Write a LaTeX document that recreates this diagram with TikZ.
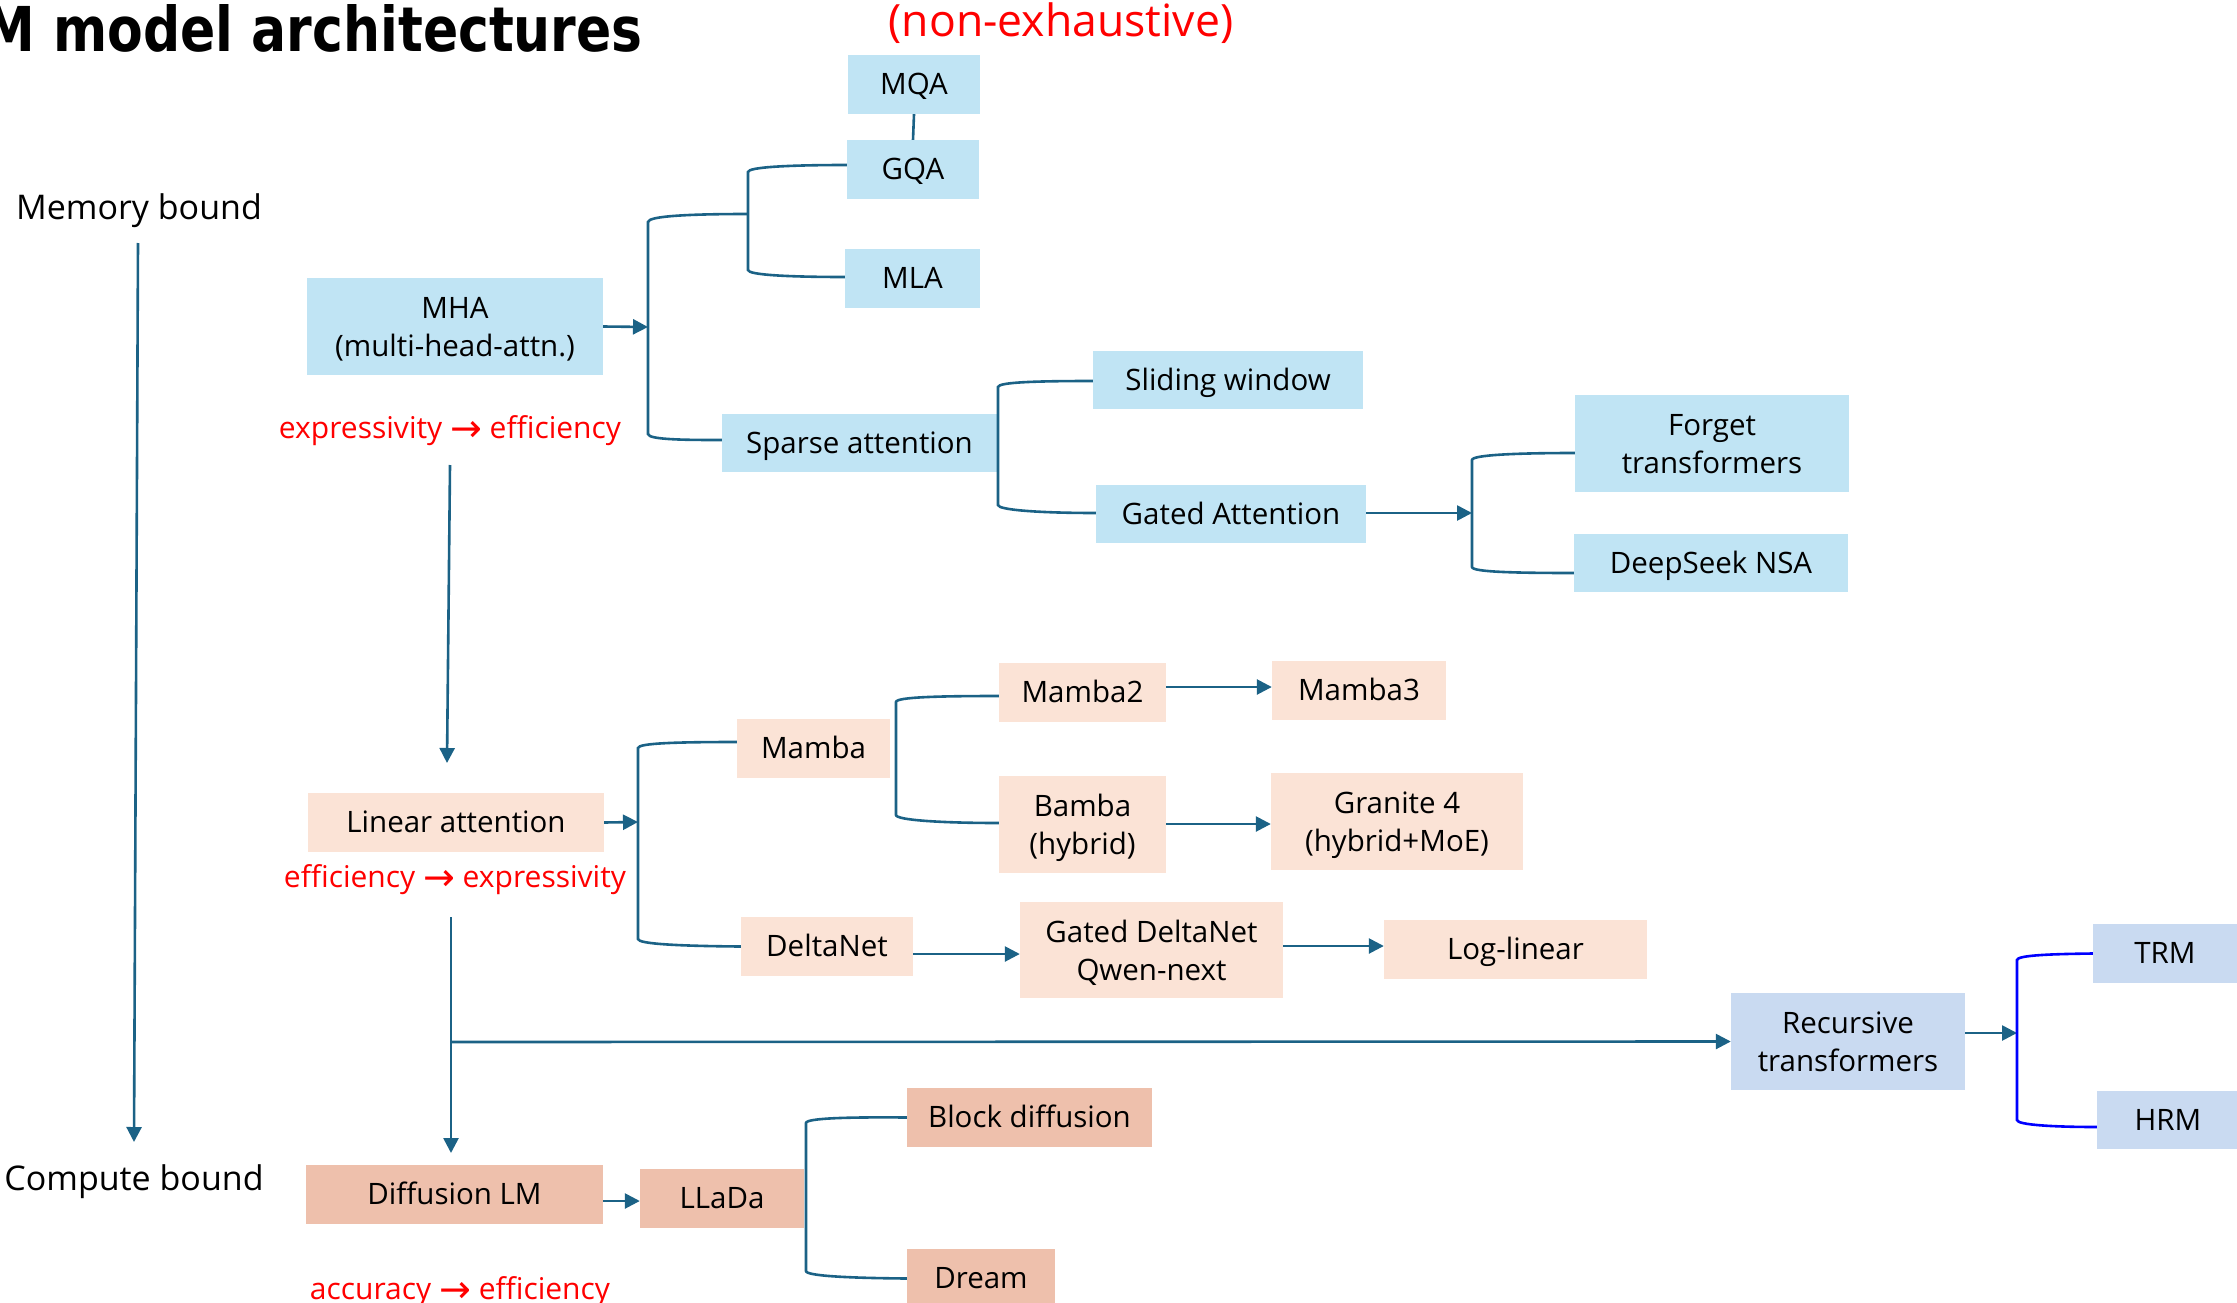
\documentclass[tikz,border=0pt]{standalone}
\usepackage{fontspec}
\setmainfont{Open Sans}
\newfontfamily\symfont{DejaVu Sans}
\usetikzlibrary{arrows.meta,calc}

\definecolor{boxblue}{RGB}{192,228,244}
\definecolor{boxlav}{RGB}{201,218,241}
\definecolor{boxpeach}{RGB}{251,227,214}
\definecolor{boxsalmon}{RGB}{238,192,172}
\definecolor{linec}{RGB}{27,98,134}
\definecolor{brblue}{RGB}{0,0,255}

\newcommand{\rarr}{\raisebox{-3pt}{\symfont\fontsize{38}{38}\selectfont\char"2192}}
\newcommand{\linestrut}{\rule[-0.3em]{0pt}{1.3em}}
% two centred lines, drawn a little lower than the box that holds them
\newcommand{\twoline}[2]{\raisebox{-3.5pt}[\height][\depth]{\begin{tabular}{@{}c@{}}#1\\#2\end{tabular}}}

\begin{document}
\begin{tikzpicture}[x=1pt,y=-1pt,
  box/.style={rectangle, inner sep=0pt, align=center, text=black,
    font=\fontsize{29.5}{38}\selectfont,
    execute at begin node=\linestrut, execute at end node=\linestrut},
  bb/.style={box, fill=boxblue},
  lb/.style={box, fill=boxlav},
  pb/.style={box, fill=boxpeach},
  sb/.style={box, fill=boxsalmon},
  lbl/.style={inner sep=0pt, font=\fontsize{30}{36}\selectfont},
  redlbl/.style={lbl, text=red},
  conn/.style={draw=linec, line width=2.6pt},
  arr/.style={conn, -{Triangle[length=15pt,width=15pt]}},
]
\useasboundingbox (0,0) rectangle (2237,1303);

% heading
\node[anchor=base east, inner sep=0pt] (title) at (643,52)
  {\resizebox{659pt}{47pt}{\symfont\bfseries M model architectures}};
\node[lbl, text=red, font=\fontsize{44.5}{50}\selectfont] (nonex) at (1061,23) {(non-exhaustive)};

% axis labels
\node[lbl, font=\fontsize{34}{40}\selectfont] (mem) at (139,211) {Memory bound};
\node[lbl, font=\fontsize{34}{40}\selectfont] (comp) at (134,1182) {Compute bound};

% attention family
\node[bb, minimum width=132pt, minimum height=59pt] (MQA) at (914,84.5) {MQA};
\node[bb, minimum width=132pt, minimum height=59pt] (GQA) at (913,169.5) {GQA};
\node[bb, minimum width=135pt, minimum height=59pt] (MLA) at (912.5,278.5) {MLA};
\node[bb, minimum width=296pt, minimum height=97pt] (MHA) at (455,326.5) {\twoline{MHA}{(multi-head-attn.)}};
\node[bb, minimum width=275pt, minimum height=58pt] (Sparse) at (859.5,443) {Sparse attention};
\node[bb, minimum width=270pt, minimum height=58pt] (Sliding) at (1228,380) {Sliding window};
\node[bb, minimum width=270pt, minimum height=58pt] (GatedAttn) at (1231,514) {Gated Attention};
\node[bb, minimum width=274pt, minimum height=97pt] (Forget) at (1712,443.5) {\twoline{Forget}{transformers}};
\node[bb, minimum width=274pt, minimum height=58pt] (DeepSeek) at (1711,563) {DeepSeek NSA};

% linear attention family
\node[pb, minimum width=296pt, minimum height=59pt] (Linear) at (456,822.5) {Linear attention};
\node[pb, minimum width=153pt, minimum height=59pt] (Mamba) at (813.5,748.5) {Mamba};
\node[pb, minimum width=167pt, minimum height=59pt] (Mamba2) at (1082.5,692.5) {Mamba2};
\node[pb, minimum width=174pt, minimum height=59pt] (Mamba3) at (1359,690.5) {Mamba3};
\node[pb, minimum width=167pt, minimum height=97pt] (Bamba) at (1082.5,824.5) {\twoline{Bamba}{(hybrid)}};
\node[pb, minimum width=252pt, minimum height=97pt] (Granite) at (1397,821.5) {\twoline{Granite 4}{(hybrid+MoE)}};
\node[pb, minimum width=172pt, minimum height=59pt] (DeltaNet) at (827,946.5) {DeltaNet};
\node[pb, minimum width=263pt, minimum height=96pt] (GDN) at (1151.5,950) {\twoline{Gated DeltaNet}{Qwen-next}};
\node[pb, minimum width=263pt, minimum height=59pt] (LogLinear) at (1515.5,949.5) {Log-linear};

% recursive family
\node[lb, minimum width=234pt, minimum height=97pt] (Recursive) at (1848,1041.5) {\twoline{Recursive}{transformers}};
\node[lb, minimum width=144pt, minimum height=59pt] (TRM) at (2165,953.5) {TRM};
\node[lb, minimum width=142pt, minimum height=58pt] (HRM) at (2168,1120) {HRM};

% diffusion family
\node[sb, minimum width=297pt, minimum height=59pt] (Diffusion) at (454.5,1194.5) {Diffusion LM};
\node[sb, minimum width=164pt, minimum height=59pt] (LLaDa) at (722,1198.5) {LLaDa};
\node[sb, minimum width=245pt, minimum height=59pt] (BlockDiff) at (1029.5,1117.5) {Block diffusion};
\node[sb, minimum width=148pt, minimum height=59pt] (Dream) at (981,1278.5) {Dream};

% trade-off labels
\node[redlbl] (tr1) at (450,431) {expressivity \rarr{} efficiency};
\node[redlbl] (tr2) at (455,880) {efficiency \rarr{} expressivity};
\node[redlbl] (tr3) at (460,1292) {accuracy \rarr{} efficiency};

% free ends of the connectors
\coordinate (axtop) at (138,243);
\coordinate (axbot) at (134,1142);
\coordinate (v1a) at (450,465);
\coordinate (v1b) at (447,763);
\coordinate (v2a) at (451,917);
\coordinate (v2j) at (451,1042);
\coordinate (v2b) at (451,1153);
\coordinate (s1m) at (648,327);
\coordinate (s2m) at (748,214);
\coordinate (s4m) at (1472,513);
\coordinate (s5m) at (638,822);
\coordinate (s7m) at (2017,1033);

% memory -> compute axis
\draw[arr] (axtop) -- (axbot);

% vertical flow between families
\draw[arr] (v1a) -- (v1b);
\draw[arr] (v2a) -- (v2b);
\draw[arr] (v2j) -- (Recursive.west);

% attention branches
\draw[conn] (MQA.south) -- (GQA.north);
\draw[arr] (MHA.east) -- (s1m);
\draw[conn] (s2m) .. controls (690,214) and (648,216) .. (648,222) -- (648,434)
  .. controls (648,440) and (690,440) .. ([yshift=3pt]Sparse.west);
\draw[conn] ([yshift=4.5pt]GQA.west) .. controls (790,165) and (748,167) .. (748,172) -- (748,270)
  .. controls (748,275) and (790,277) .. ([yshift=1.5pt]MLA.west);
\draw[conn] ([yshift=-1pt]Sliding.west) .. controls (1040,381) and (998,382) .. (998,387) -- (998,505)
  .. controls (998,510) and (1040,513) .. ([yshift=1pt]GatedAttn.west);
\draw[arr] ([yshift=1pt]GatedAttn.east) -- (s4m);
\draw[conn] ([yshift=-9.5pt]Forget.west) .. controls (1515,453) and (1472,455) .. (1472,460) -- (1472,567)
  .. controls (1472,572) and (1515,573) .. ([yshift=-10pt]DeepSeek.west);

% linear attention branches
\draw[arr] (Linear.east) -- (s5m);
\draw[conn] ([yshift=6.5pt]Mamba.west) .. controls (680,742) and (638,743) .. (638,748) -- (638,939)
  .. controls (638,944) and (680,946) .. (DeltaNet.west);
\draw[conn] ([yshift=-3.5pt]Mamba2.west) .. controls (940,696) and (896,697) .. (896,702) -- (896,815)
  .. controls (896,820) and (940,823) .. ([yshift=1.5pt]Bamba.west);
\draw[arr] ([yshift=5.5pt]Mamba2.east) -- ([yshift=3.5pt]Mamba3.west);
\draw[arr] ([yshift=0.5pt]Bamba.east) -- ([yshift=-2.5pt]Granite.west);
\draw[arr] ([yshift=-7.5pt]DeltaNet.east) -- ([yshift=-4pt]GDN.west);
\draw[arr] ([yshift=4pt]GDN.east) -- ([yshift=3.5pt]LogLinear.west);

% recursive branches
\draw[arr] ([yshift=8.5pt]Recursive.east) -- (s7m);
\draw[conn, draw=brblue] (TRM.west) .. controls (2055,954) and (2017,955) .. (2017,960) -- (2017,1120)
  .. controls (2017,1125) and (2055,1127) .. ([yshift=-7pt]HRM.west);

% diffusion branches
\draw[arr] ([yshift=-6.5pt]Diffusion.east) -- ([yshift=-2.5pt]LLaDa.west);
\draw[conn] (BlockDiff.west) .. controls (850,1117) and (806,1118) .. (806,1123) -- (806,1271)
  .. controls (806,1276) and (850,1278) .. (Dream.west);

\end{tikzpicture}
\end{document}
